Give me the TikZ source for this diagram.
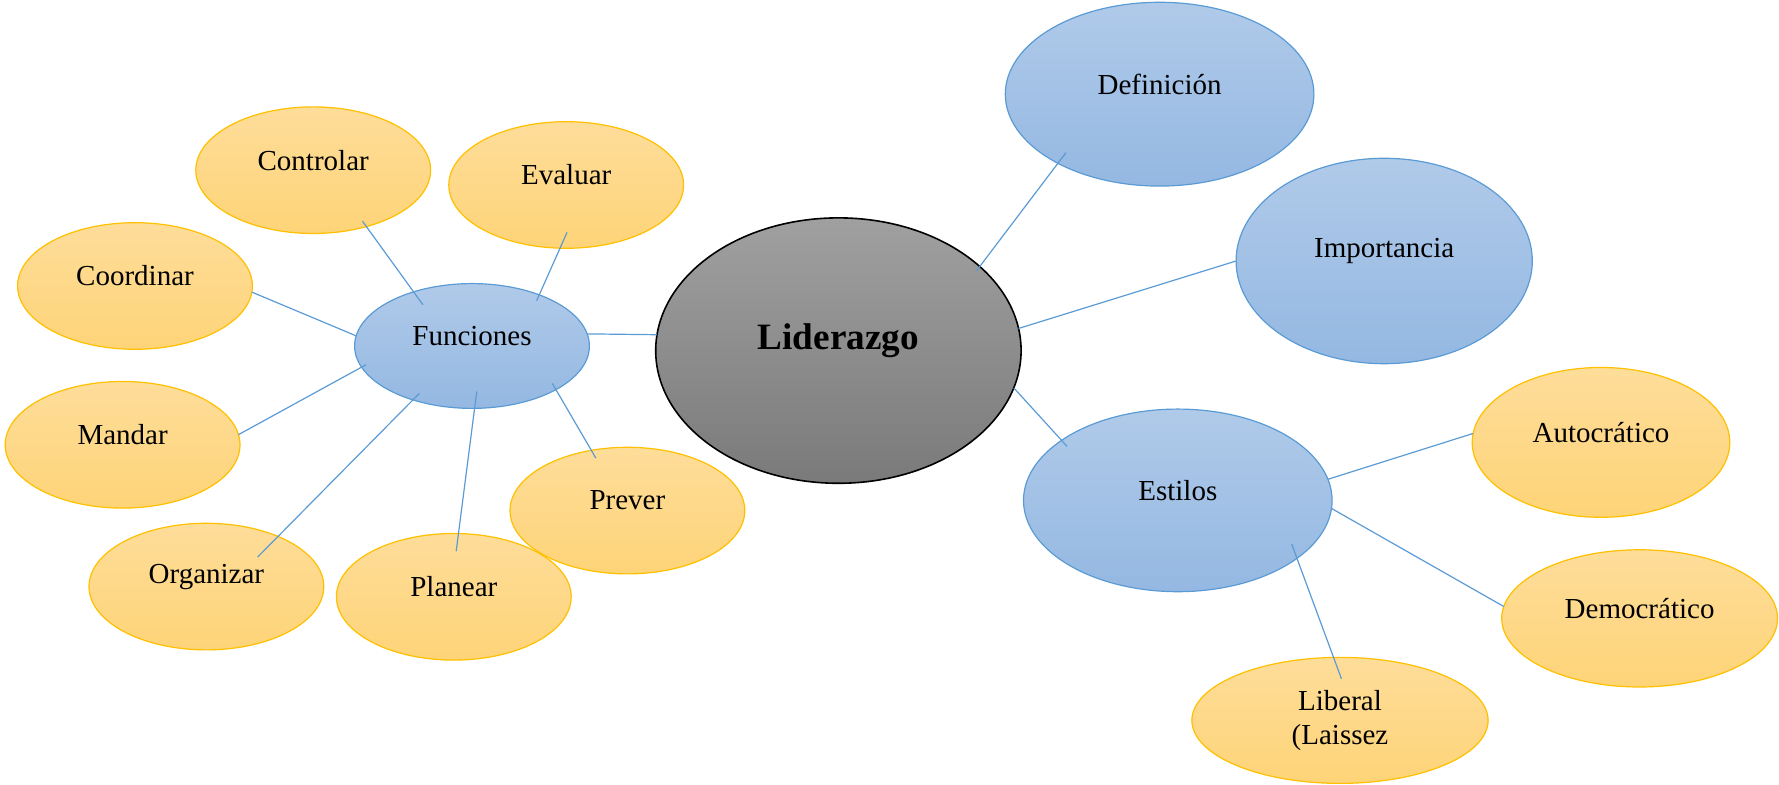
\documentclass[tikz,border=0pt]{standalone}
\usepackage{fontspec}
\setmainfont{Liberation Serif}
\usetikzlibrary{shapes.geometric,calc}
\definecolor{orT}{RGB}{254,221,154}
\definecolor{orBo}{RGB}{254,212,120}
\definecolor{orB}{RGB}{255,192,0}
\definecolor{blT}{RGB}{176,202,233}
\definecolor{blBo}{RGB}{148,184,226}
\definecolor{blB}{RGB}{91,155,213}
\definecolor{gT}{RGB}{160,160,160}
\definecolor{gB}{RGB}{122,122,122}
\definecolor{lnC}{RGB}{91,155,213}
\begin{document}
\begin{tikzpicture}[x=1pt,y=1pt,
  bub/.style={ellipse, inner sep=0pt, outer sep=0pt, line width=0.6pt},
  orb/.style={bub, draw=orB, top color=orT, bottom color=orBo, minimum width=117.4pt, minimum height=63.3pt},
  blb/.style={bub, draw=blB, top color=blT, bottom color=blBo},
  txt/.style={font=\fontsize{14.5}{17}\selectfont, align=center, inner sep=0pt},
  conn/.style={draw=lnC, line width=0.6pt}]
\useasboundingbox (0,0) rectangle (889.5,392.5);
% central
\node[bub, draw=black, line width=0.8pt, top color=gT, bottom color=gB, minimum width=182.7pt, minimum height=132.7pt,
  label={[font=\fontsize{18.6}{22}\selectfont\bfseries, inner sep=0pt, yshift=5pt]center:Liderazgo}] (lid) at (419.2,217.2) {};
% blue
\node[blb, minimum width=117.4pt, minimum height=62.4pt, label={[txt,yshift=5pt]center:Funciones}] (fun) at (236.0,219.5) {};
\node[blb, minimum width=154.3pt, minimum height=91.9pt, label={[txt,yshift=5pt]center:Definición}] (def) at (579.8,345.4) {};
\node[blb, minimum width=148.1pt, minimum height=102.7pt, label={[txt,yshift=5pt]center:Importancia}] (imp) at (692.1,262.0) {};
\node[blb, minimum width=154.3pt, minimum height=91.3pt, label={[txt,yshift=5pt]center:Estilos}] (est) at (588.9,142.3) {};
% orange
\node[orb, label={[txt,yshift=5pt]center:Controlar}] (ctl) at (156.6,307.4) {};
\node[orb, label={[txt,yshift=5pt]center:Evaluar}] (eva) at (283.1,300.0) {};
\node[orb, label={[txt,yshift=5pt]center:Coordinar}] (coo) at (67.5,249.5) {};
\node[orb, label={[txt,yshift=5pt]center:Mandar}] (man) at (61.3,170.1) {};
\node[orb, label={[txt,yshift=5pt]center:Organizar}] (org) at (103.2,99.2) {};
\node[orb, label={[txt,yshift=5pt]center:Planear}] (pla) at (226.9,94.1) {};
\node[orb, label={[txt,yshift=5pt]center:Prever}] (pre) at (313.7,137.2) {};
\node[orb, minimum width=128.8pt, minimum height=74.9pt, label={[txt,yshift=5pt]center:Autocrático}] (aut) at (800.5,171.3) {};
\node[orb, minimum width=137.9pt, minimum height=68.6pt, label={[txt,yshift=5pt]center:Democrático}] (dem) at (819.8,83.3) {};
\node[orb, minimum width=148.1pt, minimum height=63.0pt, label={[txt]center:{Liberal\\(Laissez}}] (lib) at (670.0,32.3) {};
% connectors
\draw[conn] (fun.6) -- (lid.175);
\draw[conn] ($(ctl.center)!0.91!(ctl.-46)$) -- ($(fun.center)!0.78!(fun.140)$);
\draw[conn] ($(eva.center)!0.75!(eva.-89)$) -- ($(fun.center)!0.91!(fun.35)$);
\draw[conn] (coo.-3) -- (fun.175);
\draw[conn] (man.5) -- ($(fun.center)!0.95!(fun.190)$);
\draw[conn] ($(org.center)!0.64!(org.30)$) -- ($(fun.center)!0.88!(fun.222)$);
\draw[conn] ($(pla.center)!0.72!(pla.87)$) -- ($(fun.center)!0.73!(fun.-84)$);
\draw[conn] ($(pre.center)!0.87!(pre.121)$) -- ($(fun.center)!0.91!(fun.-25)$);
\draw[conn] ($(def.center)!0.88!(def.212)$) -- ($(lid.center)!0.965!(lid.30)$);
\draw[conn] (imp.180) -- (lid.7);
\draw[conn] ($(est.center)!0.93!(est.154)$) -- (lid.-12);
\draw[conn] (aut.176) -- (est.8);
\draw[conn] (dem.175) -- (est.-3);
\draw[conn] ($(lib.center)!0.66!(lib.88)$) -- ($(est.center)!0.88!(est.-21)$);
\end{tikzpicture}
\end{document}
